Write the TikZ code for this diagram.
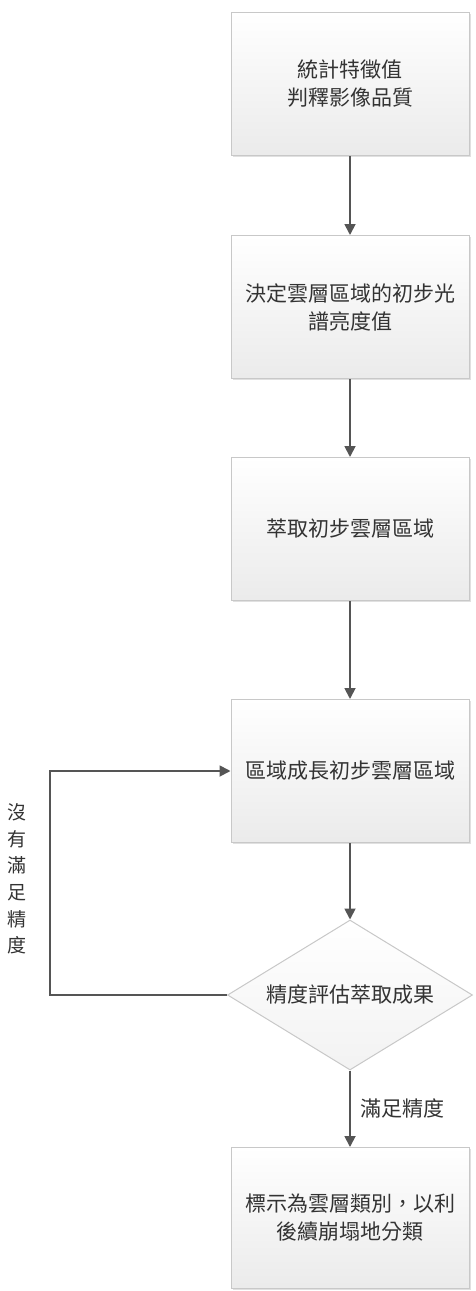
\documentclass[tikz,border=0pt]{standalone}
\usepackage{fontspec}
\setmainfont{Noto Sans CJK TC}
\usetikzlibrary{arrows.meta,shapes.geometric,shadows}
\definecolor{linegray}{HTML}{555555}
\definecolor{textgray}{HTML}{333333}
\definecolor{bordergray}{HTML}{C8C8C8}
\tikzset{
	procbox/.style={draw=bordergray, line width=1pt, top color=white, bottom color=gray!16,
		minimum width=238pt, minimum height=143pt, align=center, inner sep=4pt,
		drop shadow={shadow xshift=1.5pt, shadow yshift=-1.5pt, opacity=.35, fill=gray!70}},
	checkbox/.style={draw=bordergray, line width=1pt, shape=diamond, aspect=1.63, top color=white, bottom color=gray!10,
		minimum width=245pt, minimum height=150pt, inner sep=1pt},
	flow/.style={->, draw=linegray, line width=1.8pt}
}
\begin{document}
\begin{tikzpicture}[x=1pt, y=-1pt, font=\fontsize{21}{28}\selectfont, text=textgray, >={Triangle[length=11pt,width=11pt]}]
	\useasboundingbox (0,0) rectangle (476,1291);
	\node[procbox] (stats) at (350,84) {統計特徵值\\判釋影像品質};
	\node[procbox] (thresh) at (350,307) {決定雲層區域的初步光\\譜亮度值};
	\node[procbox] (extract) at (350,529) {萃取初步雲層區域};
	\node[procbox] (grow) at (350,771) {區域成長初步雲層區域};
	\node[checkbox] (check) at (350,995) {精度評估萃取成果};
	\node[procbox, minimum height=141pt] (label) at (350,1218) {標示為雲層類別，以利\\後續崩塌地分類};
	\coordinate (loop) at (50,995);
	\draw[flow] (stats) -- (thresh);
	\draw[flow] (thresh) -- (extract);
	\draw[flow] (extract) -- (grow);
	\draw[flow] (grow) -- (check);
	\draw[flow] (check) -- node[right=6pt] (yes) {滿足精度} (label);
	\draw[flow] (check.west) -- (loop) |- (grow.west);
	\node[align=center, font=\fontsize{19}{26.7}\selectfont] (no) at (17,879) {沒\\有\\滿\\足\\精\\度};
\end{tikzpicture}
\end{document}
